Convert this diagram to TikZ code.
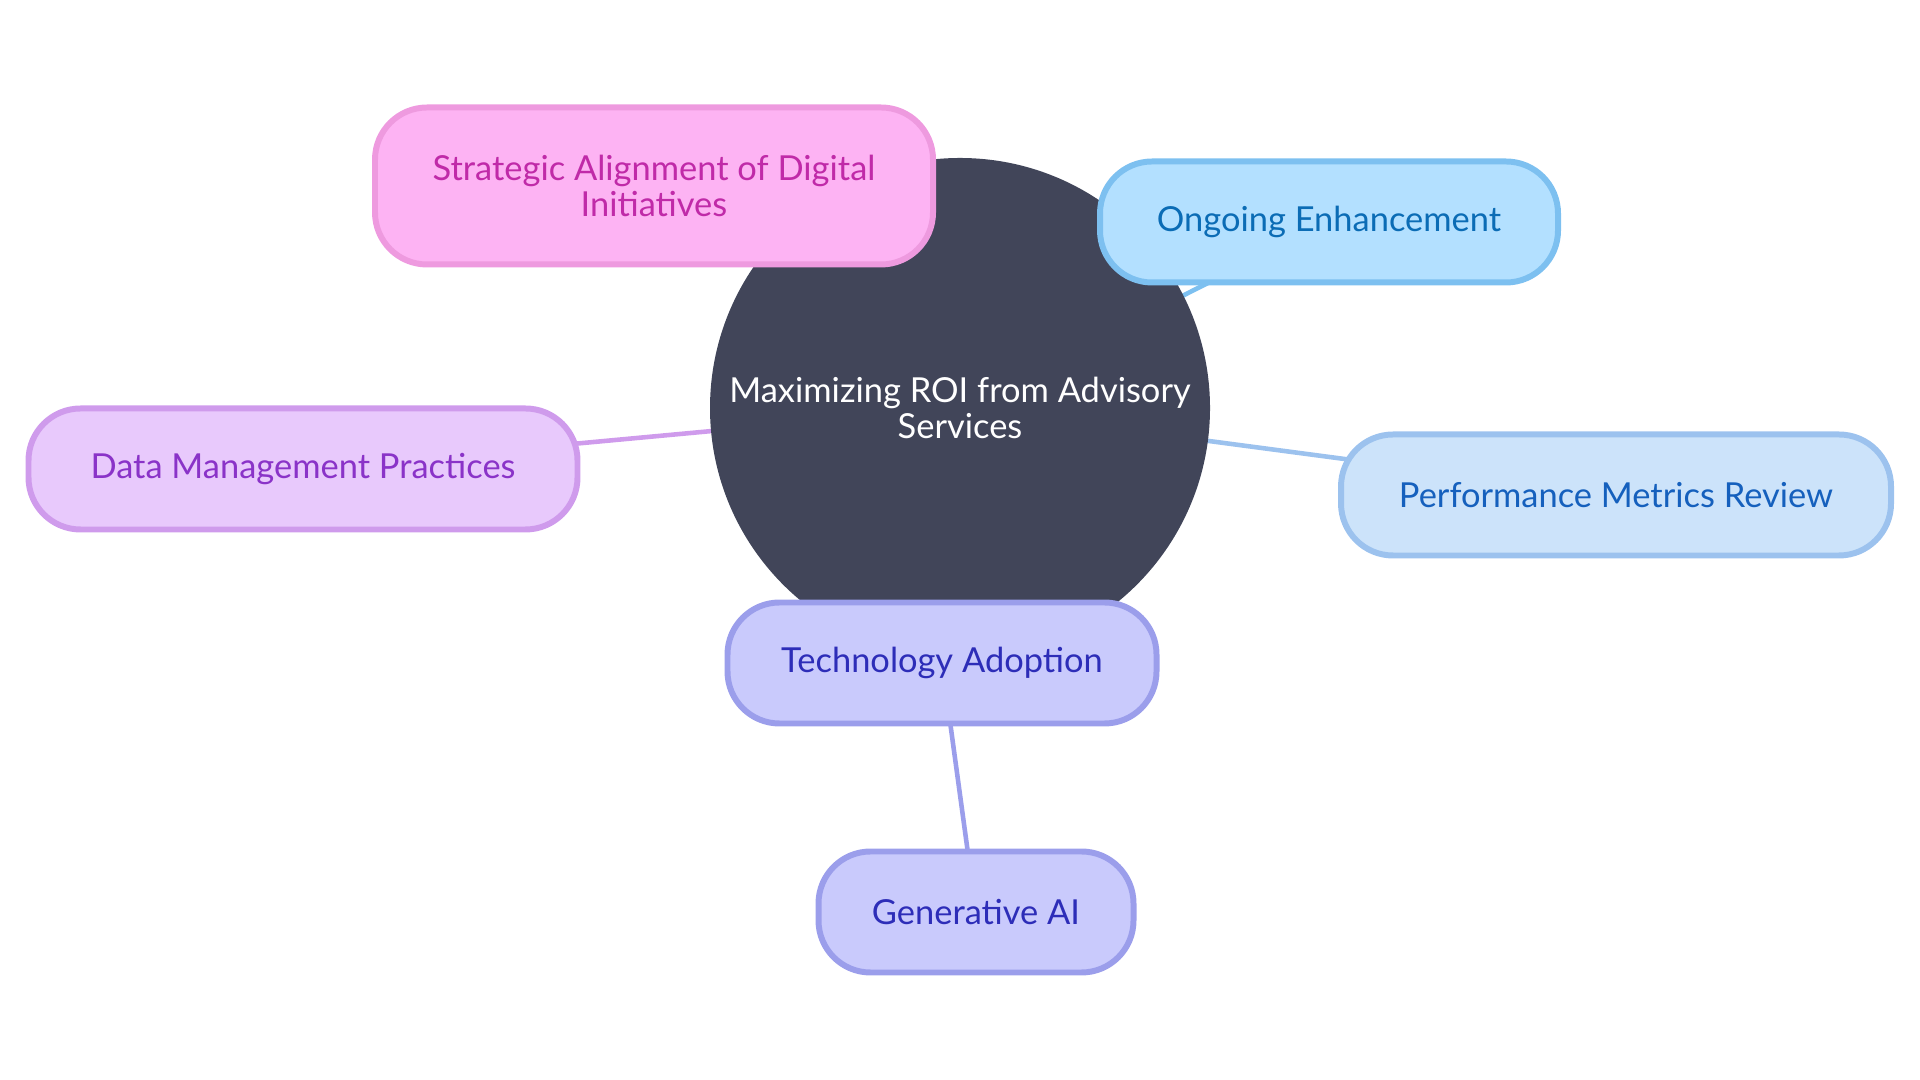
\documentclass[tikz,border=0pt]{standalone}
\usepackage{fontspec}
\setmainfont{Lato}
\usepackage{tikz}
\usetikzlibrary{backgrounds}
\definecolor{rootfill}{HTML}{414559}
\definecolor{pinkfill}{HTML}{FDB3F3}
\definecolor{pinkline}{HTML}{EE9ADF}
\definecolor{pinktext}{HTML}{C02AA8}
\definecolor{skyfill}{HTML}{B3E0FF}
\definecolor{skyline}{HTML}{7DC0F0}
\definecolor{skytext}{HTML}{0B6CB5}
\definecolor{lilacfill}{HTML}{E8C9FC}
\definecolor{lilacline}{HTML}{CF9BEC}
\definecolor{lilactext}{HTML}{8A33C8}
\definecolor{bluefill}{HTML}{CCE3FA}
\definecolor{blueline}{HTML}{9CC2EE}
\definecolor{bluetext}{HTML}{1560BD}
\definecolor{indigofill}{HTML}{C9CAFC}
\definecolor{indigoline}{HTML}{9B9EEB}
\definecolor{indigotext}{HTML}{2D2DB8}
\tikzset{
  rootnode/.style={
    circle,
    fill=rootfill,
    text=white,
    minimum size=5cm,
    align=center
  },
  leaf/.style={
    rectangle,
    rounded corners=0.52cm,
    line width=1.7pt,
    minimum height=1.21cm,
    align=center
  },
  link/.style={
    line width=1.3pt
  }
}

\begin{document}
\begin{tikzpicture}[every node/.style={font=\fontsize{9.8}{10.5}\selectfont}]
\useasboundingbox (0,0) rectangle (19.2,10.8);
\node[rootnode] (R) at (9.60,6.72) {Maximizing ROI from Advisory\\Services};
\node[leaf, fill=pinkfill, draw=pinkline, text=pinktext, minimum width=5.58cm, minimum height=1.57cm] (S) at (6.54,8.94) {Strategic Alignment of Digital\\Initiatives};
\node[leaf, fill=skyfill, draw=skyline, text=skytext, minimum width=4.58cm] (O) at (13.29,8.58) {Ongoing Enhancement};
\node[leaf, fill=lilacfill, draw=lilacline, text=lilactext, minimum width=5.49cm] (D) at (3.03,6.11) {Data Management Practices};
\node[leaf, fill=bluefill, draw=blueline, text=bluetext, minimum width=5.50cm] (P) at (16.16,5.85) {Performance Metrics Review};
\node[leaf, fill=indigofill, draw=indigoline, text=indigotext, minimum width=4.29cm] (T) at (9.42,4.17) {Technology Adoption};
\node[leaf, fill=indigofill, draw=indigoline, text=indigotext, minimum width=3.15cm] (G) at (9.76,1.68) {Generative AI};

\begin{scope}[on background layer]
\path[link] (R.center) edge[draw=pinkline] (S.center)
            (R.center) edge[draw=skyline] (O.center)
            (R.center) edge[draw=lilacline] (D.center)
            (R.center) edge[draw=blueline] (P.center)
            (R.center) edge[draw=indigoline] (T.center)
            (T.center) edge[draw=indigoline] (G.center);
\end{scope}
\end{tikzpicture}
\end{document}
